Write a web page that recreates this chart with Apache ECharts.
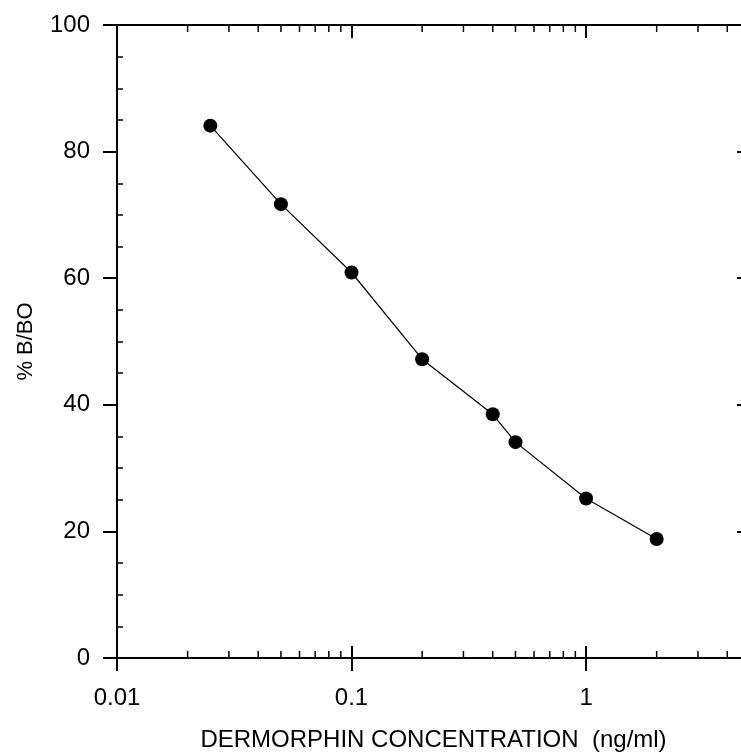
<!DOCTYPE html>
<html>
<head>
<meta charset="utf-8">
<script src="https://cdn.jsdelivr.net/npm/echarts@6/dist/echarts.min.js"></script>
<style>
  html, body { margin: 0; padding: 0; background: #fff; }
  #chart { width: 741px; height: 753px; }
</style>
</head>
<body>
<div id="chart"></div>
<script>
// concentration (ng/ml) and % B/BO
var concentration = [0.025, 0.05, 0.1, 0.2, 0.4, 0.5, 1, 2];
var percentBBo = [84.1, 71.7, 60.9, 47.2, 38.5, 34.1, 25.2, 18.8];

// log minor tick positions (2..9 of each decade)
var minorTickValues = [0.02, 0.03, 0.04, 0.05, 0.06, 0.07, 0.08, 0.09,
    0.2, 0.3, 0.4, 0.5, 0.6, 0.7, 0.8, 0.9, 2, 3, 4];

var xMin = 0.01, xMax = 5;
var yMin = 0, yMax = 100;

var font = 'Liberation Sans, Arial, sans-serif';
var black = '#000';

var chart = echarts.init(document.getElementById('chart'));

var option = {
    animation: false,
    backgroundColor: '#fff',
    // plot runs past the right edge of the picture, like the reference crop
    grid: { left: 117, top: 25, width: 633, height: 633, containLabel: false, outerBoundsMode: 'none' },
    xAxis: [
        {
            type: 'log',
            logBase: 10,
            min: xMin,
            max: xMax,
            position: 'bottom',
            name: 'DERMORPHIN CONCENTRATION  (ng/ml)',
            nameLocation: 'middle',
            nameGap: 70,
            nameTextStyle: { fontFamily: font, fontSize: 24, color: black },
            axisLine: { lineStyle: { color: black, width: 2 } },
            axisTick: { length: 13, lineStyle: { color: black, width: 2 } },
            axisLabel: {
                margin: 28, fontFamily: font, fontSize: 24, color: black,
                showMaxLabel: false
            },
            splitLine: { show: false }
        },
        {
            // inward half of the bottom major ticks
            type: 'log',
            logBase: 10,
            min: xMin,
            max: xMax,
            position: 'bottom',
            axisLine: { show: false },
            axisTick: { inside: true, length: 12, lineStyle: { color: black, width: 2 } },
            axisLabel: { show: false },
            splitLine: { show: false }
        },
        {
            type: 'log',
            logBase: 10,
            min: xMin,
            max: xMax,
            position: 'top',
            axisLine: { lineStyle: { color: black, width: 2 } },
            axisTick: { inside: true, length: 13, lineStyle: { color: black, width: 2 } },
            axisLabel: { show: false },
            splitLine: { show: false }
        }
    ],
    yAxis: [
        {
            type: 'value',
            min: yMin,
            max: yMax,
            interval: 20,
            position: 'left',
            name: '% B/BO',
            nameLocation: 'middle',
            nameGap: 80,
            nameRotate: 90,
            nameTextStyle: { fontFamily: font, fontSize: 22, color: black },
            axisLine: { show: true, lineStyle: { color: black, width: 2 } },
            axisTick: { show: true, length: 14, lineStyle: { color: black, width: 2 } },
            minorTick: { show: true, splitNumber: 4, length: -6, lineStyle: { color: black, width: 1.5 } },
            axisLabel: { margin: 27, fontFamily: font, fontSize: 24, color: black },
            splitLine: { show: false }
        },
        {
            type: 'value',
            min: yMin,
            max: yMax,
            interval: 20,
            position: 'right',
            axisLine: { show: true, lineStyle: { color: black, width: 2 } },
            axisTick: { show: true, inside: true, length: 13, lineStyle: { color: black, width: 2 } },
            axisLabel: { show: false },
            splitLine: { show: false }
        }
    ],
    series: [
        {
            // log minor ticks on bottom and top axes
            type: 'custom',
            xAxisIndex: 0,
            yAxisIndex: 0,
            silent: true,
            clip: false,
            data: minorTickValues.map(function (v) { return [v]; }),
            renderItem: function (params, api) {
                var b = api.coord([api.value(0), yMin]);
                var t = api.coord([api.value(0), yMax]);
                var style = { stroke: black, lineWidth: 1.5 };
                return {
                    type: 'group',
                    children: [
                        { type: 'line', shape: { x1: b[0], y1: b[1], x2: b[0], y2: b[1] - 7 }, style: style },
                        { type: 'line', shape: { x1: t[0], y1: t[1], x2: t[0], y2: t[1] + 7 }, style: style }
                    ]
                };
            }
        },
        {
            type: 'line',
            xAxisIndex: 0,
            yAxisIndex: 0,
            data: concentration.map(function (c, i) { return [c, percentBBo[i]]; }),
            symbol: 'circle',
            symbolSize: 14,
            lineStyle: { color: black, width: 1.2 },
            itemStyle: { color: black },
            z: 5
        }
    ]
};

chart.setOption(option);
</script>
</body>
</html>
